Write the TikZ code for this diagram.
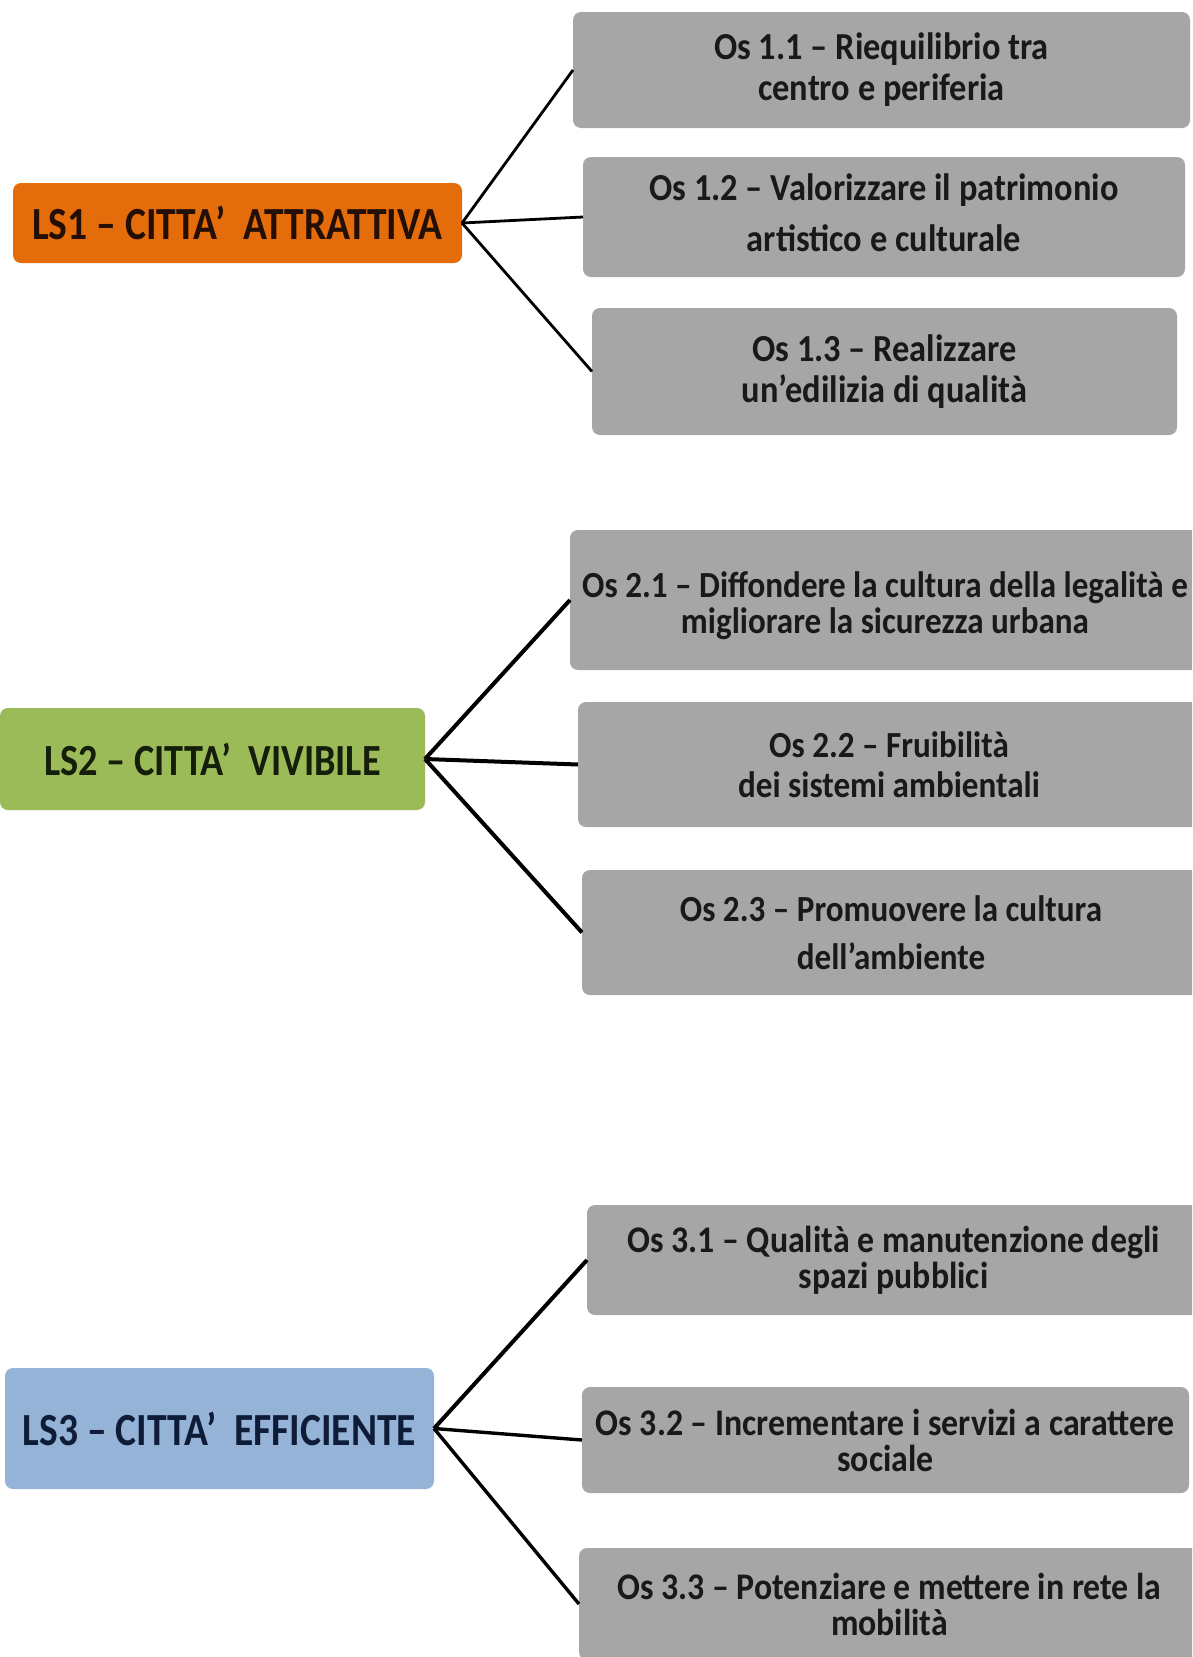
\documentclass[tikz,border=0pt]{standalone}
\usepackage{fontspec}
\setmainfont{Carlito}
\newfontfamily\boxfont[FakeStretch=0.9]{Carlito}
\newfontfamily\titlefont[FakeStretch=0.86]{Carlito}
\definecolor{lsorange}{RGB}{228,108,10}
\definecolor{lsgreen}{RGB}{155,187,89}
\definecolor{lsblue}{RGB}{149,179,215}
\definecolor{osgray}{RGB}{166,166,166}
\definecolor{txtone}{RGB}{35,15,5}
\definecolor{txttwo}{RGB}{20,30,10}
\definecolor{txtthree}{RGB}{15,28,55}
\begin{document}
\begin{tikzpicture}[x=1pt,y=-1pt,
  lsbox/.style={rounded corners=8pt,inner sep=0pt,outer sep=0pt,align=center,
    font=\titlefont\bfseries\fontsize{46}{50}\selectfont},
  osbox/.style={fill=osgray,rounded corners=8pt,inner sep=0pt,outer sep=0pt,align=center,
    font=\boxfont\bfseries\fontsize{36}{40}\selectfont,text=black!90},
  osone/.style={osbox,font=\boxfont\bfseries\fontsize{38.2}{41}\selectfont},
  ostwo/.style={osbox,font=\boxfont\bfseries\fontsize{36.8}{40}\selectfont},
  osthree/.style={osbox,font=\boxfont\bfseries\fontsize{37.6}{40}\selectfont},
  link/.style={line width=3.4pt,black},
  thinlink/.style={line width=2.8pt,black},
  thicklink/.style={line width=4pt,black}]
\useasboundingbox (0,0) rectangle (1192,1657);
\clip (0,0) rectangle (1192,1657);
% LS1 group
\node[lsbox,fill=lsorange,text=txtone,minimum width=449pt,minimum height=80pt] (ls1) at (237.5,223) {LS1 – CITTA’\ \ ATTRATTIVA};
\node[osone,minimum width=617pt,minimum height=116pt] (o11) at (881.5,70) {Os 1.1 – Riequilibrio tra\\centro e periferia};
\node[osone,minimum width=602pt,minimum height=120pt] (o12) at (884,217) {Os 1.2 – Valorizzare il patrimonio\\[10pt]artistico e culturale\rule[-8pt]{0pt}{8pt}};
\node[osone,minimum width=585pt,minimum height=127pt] (o13) at (884.5,371.5) {Os 1.3 – Realizzare\\un’edilizia di qualità};
\draw[thinlink] (ls1.east) -- (o11.west);
\draw[thinlink] (ls1.east) -- (o12.west);
\draw[thinlink] (ls1.east) -- (o13.west);
% LS2 group
\node[lsbox,fill=lsgreen,text=txttwo,minimum width=425pt,minimum height=102pt,font=\titlefont\bfseries\fontsize{44.5}{48}\selectfont] (ls2) at (212.5,759) {LS2 – CITTA’\ \ VIVIBILE};
\node[ostwo,minimum width=630pt,minimum height=140pt] (o21) at (885,600) {\rule{0pt}{38pt}Os 2.1 – Diffondere la cultura della legalità e\\[-4pt]migliorare la sicurezza urbana};
\node[ostwo,minimum width=622pt,minimum height=125pt] (o22) at (889,764.5) {Os 2.2 – Fruibilità\\dei sistemi ambientali};
\node[ostwo,minimum width=618pt,minimum height=125pt] (o23) at (891,932.5) {Os 2.3 – Promuovere la cultura\\[8pt]dell’ambiente};
\draw[thicklink] (ls2.east) -- (o21.west);
\draw[thicklink] (ls2.east) -- (o22.west);
\draw[thicklink] (ls2.east) -- (o23.west);
% LS3 group
\node[lsbox,fill=lsblue,text=txtthree,minimum width=429pt,minimum height=121pt] (ls3) at (219.5,1428.5) {LS3 – CITTA’\ \ EFFICIENTE};
\node[osthree,minimum width=613pt,minimum height=110pt] (o31) at (893.5,1260) {Os 3.1 – Qualità e manutenzione degli\\[-4pt]spazi pubblici};
\node[osthree,minimum width=607pt,minimum height=106pt] (o32) at (885.5,1440) {Os 3.2 – Incrementare i servizi a carattere\\[-4pt]sociale};
\node[osthree,minimum width=621pt,minimum height=112pt] (o33) at (889.5,1604) {Os 3.3 – Potenziare e mettere in rete la\\[-4pt]mobilità};
\draw[thicklink] (ls3.east) -- (o31.west);
\draw[link] (ls3.east) -- (o32.west);
\draw[link] (ls3.east) -- (o33.west);
\end{tikzpicture}
\end{document}
